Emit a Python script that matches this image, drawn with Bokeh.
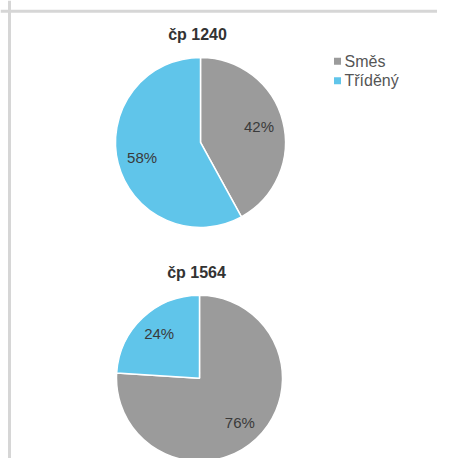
import numpy as np
from bokeh.plotting import figure
from bokeh.models import Range1d, Span
from bokeh.core.properties import value
from bokeh.embed import file_html
from bokeh.resources import INLINE

# ---- data ----
categories = ["Směs", "Tříděný"]
colors = ["#9b9b9b", "#60c5ea"]
titles = ["čp 1240", "čp 1564"]
shares_1240 = [42, 58]
shares_1564 = [76, 24]

W, H = 437, 458
IMG_W, IMG_H = 453, 474
# content laid out 1:1 in x, compressed slightly in y so the lower pie fits
p = figure(width=W, height=H, output_backend="svg", toolbar_location=None,
           x_range=Range1d(0, W), y_range=Range1d(IMG_H - H - 10, IMG_H),
           min_border=0)
p.axis.visible = False
p.grid.visible = False
p.outline_line_color = None
p.background_fill_color = "#ffffff"

FONT = "Liberation Sans"

# frame border (top and left)
p.add_layout(Span(location=IMG_H - 11, dimension="width", line_color="#d6d6d6", line_width=3))
p.add_layout(Span(location=9, dimension="height", line_color="#d6d6d6", line_width=3))

def draw_pie(cx, cy_img, r, shares, title):
    cy = IMG_H - cy_img
    fr = np.array(shares, dtype=float) / sum(shares)
    ends = np.cumsum(fr)
    starts = ends - fr
    start_ang = np.pi / 2 - starts * 2 * np.pi
    end_ang = np.pi / 2 - ends * 2 * np.pi
    p.wedge(x=[cx] * len(fr), y=[cy] * len(fr), radius=r,
            start_angle=list(start_ang), end_angle=list(end_ang), direction="clock",
            fill_color=colors, line_color="white", line_width=1.5)
    mid = np.pi / 2 - (starts + fr / 2) * 2 * np.pi
    lx = cx + 0.71 * r * np.cos(mid)
    ly = cy + 0.75 * r * np.sin(mid)
    p.text(x=list(lx), y=list(ly), text=[f"{s}%" for s in shares],
           text_align="center", text_baseline="middle",
           text_font=value(FONT), text_font_size="15px", text_color="#3a3a3a")
    p.text(x=[cx - 3], y=[IMG_H - (cy_img - r - 25)], text=[title],
           text_align="center", text_baseline="middle",
           text_font=value(FONT), text_font_size="16px", text_font_style="bold",
           text_color="#333333")

draw_pie(200, 145, 85, shares_1240, titles[0])
draw_pie(199, 386, 83, shares_1564, titles[1])

# legend
leg_x = 337
leg_y = [IMG_H - 62, IMG_H - 82]
p.scatter(x=[leg_x] * 2, y=leg_y, marker="square", size=7, fill_color=colors, line_color=None)
p.text(x=[leg_x + 7] * 2, y=leg_y, text=categories, text_align="left", text_baseline="middle",
       text_font=value(FONT), text_font_size="16px", text_color="#555555")

open("out.html", "w").write(file_html(p, INLINE))
